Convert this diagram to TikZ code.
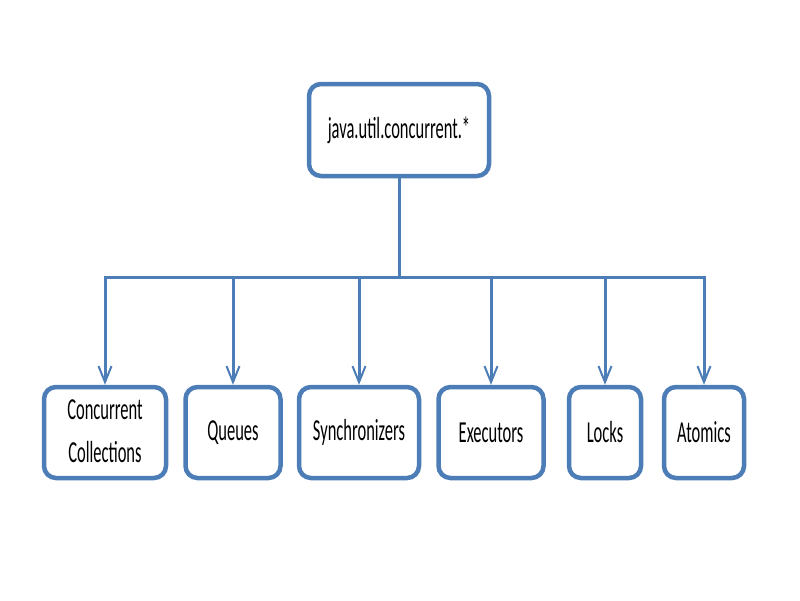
\documentclass[tikz,border=0pt]{standalone}
\usepackage{fontspec}
\setmainfont{Carlito}
\usepackage{graphicx}
\usetikzlibrary{positioning,arrows.meta}
\definecolor{pkgblue}{RGB}{76,125,182}
\newcommand{\tall}[1]{\scalebox{1}[1.85]{#1}}

\begin{document}
\begin{tikzpicture}[x=1pt, y=-1pt, >={Straight Barb[length=16pt,width=13pt,line width=2pt]},
  pkg/.style={draw=pkgblue, line width=4.5pt, rounded corners=12pt, fill=white,
    inner sep=0pt, align=center, font=\fontsize{16.5}{23.5}\selectfont, minimum height=91pt},
  link/.style={draw=pkgblue, line width=3pt}]

\useasboundingbox (0,0) rectangle (800,600);

\node[pkg, minimum width=180pt, minimum height=92pt] (root) at (399,130) {\tall{java.util.concurrent.*}};

\node[pkg, minimum width=122pt] (cc) at (105,432.5) {\tall{\begin{tabular}{@{}c@{}}Concurrent\\[0pt]Collections\end{tabular}}};
\node[pkg, minimum width=95pt] (queues) at (233,432.5) {\tall{Queues}};
\node[pkg, minimum width=120pt] (sync) at (359,432.5) {\tall{Synchronizers}};
\node[pkg, minimum width=105pt] (exec) at (491,432.5) {\tall{Executors}};
\node[pkg, minimum width=72pt] (locks) at (605,432.5) {\tall{Locks}};
\node[pkg, minimum width=80pt] (atomics) at (704,432.5) {\tall{Atomics}};

\coordinate (busL) at (cc.north |- 0,277);
\coordinate (busR) at (atomics.north |- 0,277);

\draw[link] (root.south) -- (root.south |- busL);
\draw[link, line cap=rect] (busL) -- (busR);
\foreach \n in {cc,queues,sync,exec,locks,atomics}
  \draw[link, ->] (\n.north |- busL) -- (\n.north);

\end{tikzpicture}
\end{document}
